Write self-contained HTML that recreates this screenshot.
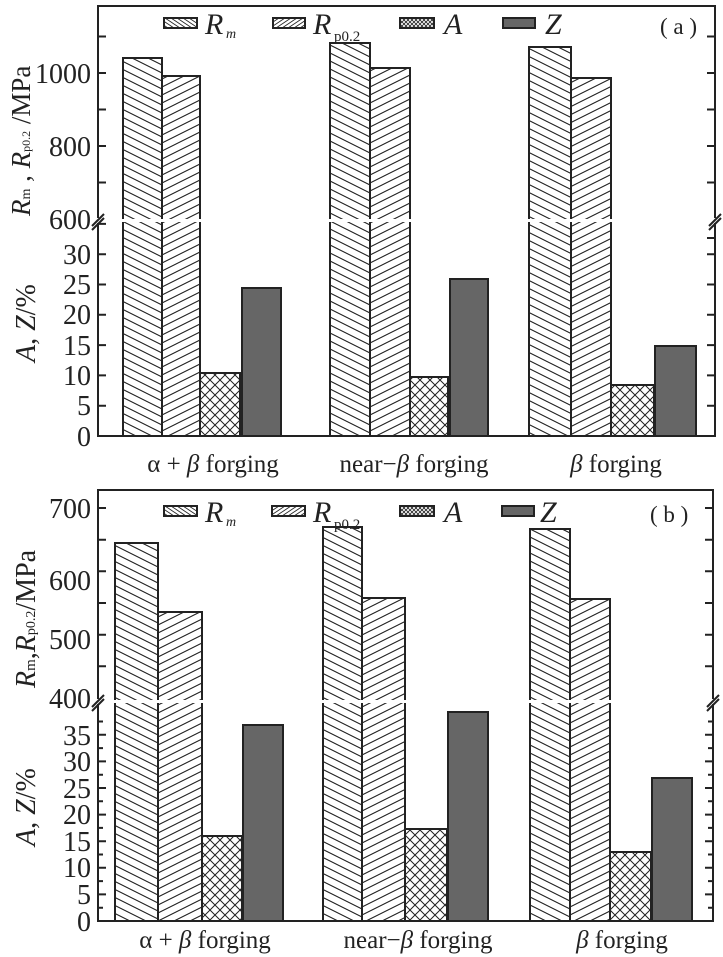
<!DOCTYPE html>
<html><head><meta charset="utf-8"><style>
html,body{margin:0;padding:0;background:#fff}
svg{display:block;font-family:"Liberation Serif",serif}
</style></head><body>
<svg width="723" height="957" viewBox="0 0 723 957">
<defs>
<pattern id="pm" patternUnits="userSpaceOnUse" width="16" height="8"><path d="M-16,-8L32,16M-16,0L16,16M0,-8L32,8" stroke="#222" stroke-width="1.1"/></pattern>
<pattern id="pp" patternUnits="userSpaceOnUse" width="16" height="8"><path d="M-16,16L32,-8M-16,8L16,-8M0,16L32,0" stroke="#222" stroke-width="1.1"/></pattern>
<pattern id="pa" patternUnits="userSpaceOnUse" width="10" height="10"><path d="M-5,-5L15,15M-5,5L5,15M5,-5L15,5M-5,15L15,-5M-5,5L5,-5M5,15L15,5" stroke="#222" stroke-width="1"/></pattern>
<pattern id="pms" patternUnits="userSpaceOnUse" width="6" height="4"><path d="M-6,-4L12,8M-6,0L6,8M0,-4L12,4" stroke="#222" stroke-width="0.9"/></pattern>
<pattern id="pps" patternUnits="userSpaceOnUse" width="6" height="4"><path d="M-6,8L12,-4M-6,4L6,-4M0,8L12,0" stroke="#222" stroke-width="0.9"/></pattern>
<pattern id="pas" patternUnits="userSpaceOnUse" width="4" height="4"><path d="M0,0L4,4M4,0L0,4" stroke="#222" stroke-width="0.8"/></pattern>
</defs>
<g stroke="#222" stroke-width="2">
<rect x="123" y="58" width="39" height="378" fill="url(#pm)"/>
<rect x="162" y="76" width="38" height="360" fill="url(#pp)"/>
<rect x="200" y="373" width="40" height="63" fill="url(#pa)"/>
<rect x="242" y="288" width="39" height="148" fill="#666"/>
<rect x="330" y="43" width="40" height="393" fill="url(#pm)"/>
<rect x="370" y="68" width="40" height="368" fill="url(#pp)"/>
<rect x="410" y="377" width="38" height="59" fill="url(#pa)"/>
<rect x="450" y="279" width="38" height="157" fill="#666"/>
<rect x="529" y="47" width="42" height="389" fill="url(#pm)"/>
<rect x="571" y="78" width="40" height="358" fill="url(#pp)"/>
<rect x="611" y="385" width="43" height="51" fill="url(#pa)"/>
<rect x="655" y="346" width="41" height="90" fill="#666"/>
<rect x="115" y="543" width="43" height="378" fill="url(#pm)"/>
<rect x="158" y="612" width="44" height="309" fill="url(#pp)"/>
<rect x="202" y="836" width="40" height="85" fill="url(#pa)"/>
<rect x="243" y="725" width="40" height="196" fill="#666"/>
<rect x="323" y="527" width="39" height="394" fill="url(#pm)"/>
<rect x="362" y="598" width="43" height="323" fill="url(#pp)"/>
<rect x="405" y="829" width="42" height="92" fill="url(#pa)"/>
<rect x="448" y="712" width="40" height="209" fill="#666"/>
<rect x="530" y="529" width="40" height="392" fill="url(#pm)"/>
<rect x="570" y="599" width="40" height="322" fill="url(#pp)"/>
<rect x="610" y="852" width="41" height="69" fill="url(#pa)"/>
<rect x="652" y="778" width="40" height="143" fill="#666"/>
</g>
<rect x="99" y="219" width="614" height="3" fill="#fff"/>
<rect x="99" y="700" width="612" height="3" fill="#fff"/>
<g stroke="#222" stroke-width="2" fill="none">
<path d="M98,218V6H715V218M98,223V436H715V223"/>
<path d="M98,699V490H713V699M98,704V921H713V704"/>
<path d="M92,226L104,214M92,230L104,218M709,226L721,214M709,230L721,218"/>
<path d="M92,707L104,695M92,711L104,699M707,707L719,695M707,711L719,699"/>
</g>
<g stroke="#222" stroke-width="2">
<path d="M98,182.5h8M98,146h8M98,109.5h8M98,73h8M98,36.5h8M715,182.5h-8M715,146h-8M715,109.5h-8M715,73h-8M715,36.5h-8"/>
<path d="M98,405.7h8M98,375.4h8M98,345.1h8M98,314.8h8M98,284.5h8M98,254.2h8M98,223.9h8M715,405.7h-8M715,375.4h-8M715,345.1h-8M715,314.8h-8M715,284.5h-8M715,254.2h-8M715,238h-8"/>
<path d="M98,666.3h8M98,634.7h8M98,603h8M98,571.3h8M98,539.7h8M98,508h8M713,666.3h-8M713,634.7h-8M713,603h-8M713,571.3h-8M713,539.7h-8M713,508h-8"/>
<path d="M98,894.4h8M98,867.8h8M98,841.2h8M98,814.6h8M98,788h8M98,761.4h8M98,734.8h8M713,894.4h-8M713,867.8h-8M713,841.2h-8M713,814.6h-8M713,788h-8M713,761.4h-8M713,734.8h-8"/>
<path d="M98,907.7h5M98,881.1h5M98,854.5h5M98,827.9h5M98,801.3h5M98,774.7h5M98,748.1h5M98,721.5h5M713,907.7h-5M713,881.1h-5M713,854.5h-5M713,827.9h-5M713,801.3h-5M713,774.7h-5M713,748.1h-5M713,721.5h-5"/>
</g>
<g font-size="28" fill="#222" text-anchor="end">
<text x="91" y="83">1000</text><text x="91" y="156">800</text><text x="91" y="229">600</text>
<text x="91" y="264">30</text><text x="91" y="294">25</text><text x="91" y="324">20</text><text x="91" y="355">15</text><text x="91" y="385">10</text><text x="91" y="415">5</text><text x="91" y="446">0</text>
<text x="91" y="518">700</text><text x="91" y="590">600</text><text x="91" y="649">500</text><text x="91" y="708">400</text>
<text x="91" y="745">35</text><text x="91" y="771">30</text><text x="91" y="798">25</text><text x="91" y="824">20</text><text x="91" y="851">15</text><text x="91" y="877">10</text><text x="91" y="904">5</text><text x="91" y="931">0</text>
</g>
<g font-size="28" fill="#222">
<text transform="translate(30,216) rotate(-90)" font-size="27"><tspan font-style="italic">R</tspan><tspan font-size="14">m</tspan> , <tspan font-style="italic">R</tspan><tspan font-size="12">p0.2</tspan> /MPa</text>
<text transform="translate(35,362) rotate(-90)"><tspan font-style="italic">A</tspan>, <tspan font-style="italic">Z</tspan>/%</text>
<text transform="translate(35,688) rotate(-90)"><tspan font-style="italic">R</tspan><tspan font-size="15">m</tspan>,<tspan font-style="italic">R</tspan><tspan font-size="14">p0.2</tspan>/MPa</text>
<text transform="translate(35,846) rotate(-90)"><tspan font-style="italic">A</tspan>, <tspan font-style="italic">Z</tspan>/%</text>
</g>
<g font-size="25" fill="#222" text-anchor="middle">
<text x="213" y="472">α + <tspan font-style="italic">β</tspan> forging</text>
<text x="414" y="472">near−<tspan font-style="italic">β</tspan> forging</text>
<text x="616" y="472"><tspan font-style="italic">β</tspan> forging</text>
<text x="205" y="948">α + <tspan font-style="italic">β</tspan> forging</text>
<text x="418" y="948">near−<tspan font-style="italic">β</tspan> forging</text>
<text x="622" y="948"><tspan font-style="italic">β</tspan> forging</text>
</g>
<g stroke="#222" stroke-width="2">
<rect x="164" y="18" width="33" height="10" fill="url(#pms)"/>
<rect x="273" y="18" width="32" height="10" fill="url(#pps)"/>
<rect x="400" y="18" width="34" height="10" fill="url(#pas)"/>
<rect x="503" y="18" width="32" height="10" fill="#666"/>
<rect x="164" y="506" width="33" height="10" fill="url(#pms)"/>
<rect x="272" y="506" width="33" height="10" fill="url(#pps)"/>
<rect x="400" y="506" width="34" height="10" fill="url(#pas)"/>
<rect x="502" y="506" width="32" height="10" fill="#666"/>
</g>
<g font-size="30" fill="#222">
<text x="205" y="34" font-style="italic">R</text><text x="226" y="38" font-size="14" font-style="italic">m</text>
<text x="313" y="34" font-style="italic">R</text><text x="334" y="41" font-size="15">p0.2</text>
<text x="444" y="34" font-style="italic">A</text>
<text x="545" y="34" font-style="italic">Z</text>
<text x="660" y="34" font-size="23">( a )</text>
<text x="205" y="522" font-style="italic">R</text><text x="226" y="526" font-size="14" font-style="italic">m</text>
<text x="313" y="522" font-style="italic">R</text><text x="334" y="529" font-size="15">p0.2</text>
<text x="444" y="522" font-style="italic">A</text>
<text x="540" y="522" font-style="italic">Z</text>
<text x="650" y="522" font-size="23">( b )</text>
</g>
</svg>
</body></html>
